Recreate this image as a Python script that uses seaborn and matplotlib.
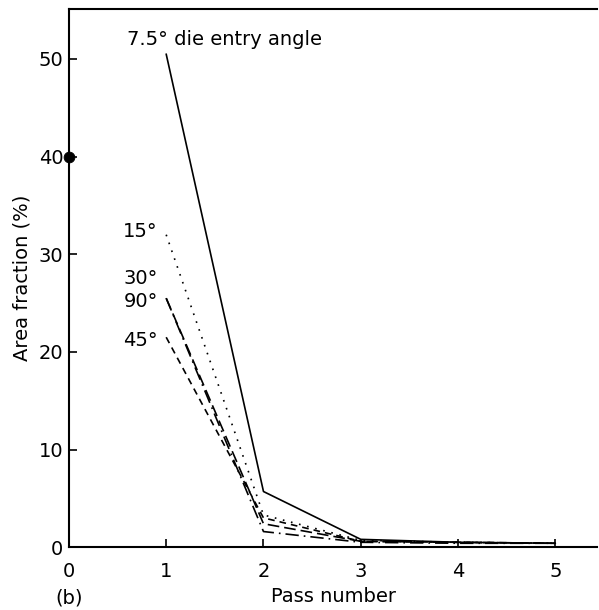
import matplotlib
matplotlib.use("Agg")
import matplotlib.pyplot as plt
import seaborn as sns
import pandas as pd

passes = [1, 2, 3, 4, 5]
angle_labels = ["7.5°", "15°", "30°", "90°", "45°"]
area_7_5 = [50.5, 5.7, 0.8, 0.5, 0.4]
area_15 = [32.0, 3.3, 0.7, 0.5, 0.4]
area_30 = [25.5, 1.6, 0.5, 0.4, 0.4]
area_90 = [25.5, 2.4, 0.6, 0.5, 0.4]
area_45 = [21.5, 3.0, 0.6, 0.5, 0.4]
initial_pass = [0]
initial_area = [40.0]
x_ticks = [0, 1, 2, 3, 4, 5]
y_ticks = [0, 10, 20, 30, 40, 50]

sns.set_theme(style="white")
plt.rcParams['font.family'] = ['DejaVu Sans']
plt.rcParams['text.color'] = 'black'
plt.rcParams['axes.labelcolor'] = 'black'

fig = plt.figure(figsize=(5.99, 6.10), dpi=100)
ax = fig.add_axes([0.115, 0.103, 0.882, 0.882])

series = [area_7_5, area_15, area_30, area_90, area_45]
styles = ["-", (0, (1, 4)), (0, (8, 3, 1, 3)), (0, (7, 3)), (0, (4, 3))]
for lab, vals, ls in zip(angle_labels, series, styles):
    df = pd.DataFrame({"Pass": passes, "Area": vals})
    sns.lineplot(data=df, x="Pass", y="Area", ax=ax, color="black",
                 linewidth=1.2, linestyle=ls)

sns.scatterplot(x=initial_pass, y=initial_area, ax=ax, color="black",
                s=60, zorder=5, clip_on=False, edgecolor="black")

fs = 14
ax.text(0.60, 52.0, "7.5° die entry angle", fontsize=fs, va="center", ha="left", color="black")
ax.text(0.56, 32.3, "15°", fontsize=fs, va="center", ha="left", color="black")
ax.text(0.56, 27.5, "30°", fontsize=fs, va="center", ha="left", color="black")
ax.text(0.56, 25.2, "90°", fontsize=fs, va="center", ha="left", color="black")
ax.text(0.56, 21.2, "45°", fontsize=fs, va="center", ha="left", color="black")

ax.set_xlim(0, 5.43)
ax.set_ylim(0, 55.1)
ax.set_xticks(x_ticks)
ax.set_yticks(y_ticks)
ax.tick_params(direction="in", length=6, width=1.2, labelsize=fs,
               colors="black", left=True, bottom=True)
ax.tick_params(axis="x", pad=11)
ax.tick_params(axis="y", pad=4)
ax.set_xlabel("Pass number", fontsize=fs, color="black", labelpad=4)
ax.set_ylabel("Area fraction (%)", fontsize=fs, color="black", labelpad=5)
ax.text(-0.025, -0.095, "(b)", transform=ax.transAxes, fontsize=fs, ha="left", va="center", color="black")

for side in ["left", "bottom", "top"]:
    ax.spines[side].set_visible(True)
    ax.spines[side].set_color("black")
    ax.spines[side].set_linewidth(1.5)
ax.spines["right"].set_visible(False)
ax.grid(False)

fig.savefig("out.png", dpi=100)
